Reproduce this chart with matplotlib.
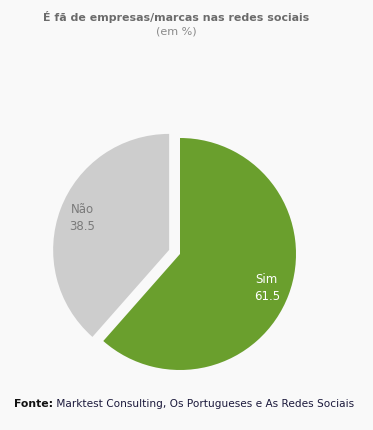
import matplotlib
matplotlib.use("Agg")
import matplotlib.pyplot as plt

categories = ["Sim", "Não"]
values = [61.5, 38.5]
colors = ["#6a9f2d", "#cdcdcd"]
label_colors = ["white", "#7a7a7a"]
explode = [0, 0.1]

bg = "#f9f9f9"
fig = plt.figure(figsize=(3.73, 4.31), dpi=100, facecolor=bg)
r_px = 116
cx, cy = 180, 431 - 255
half = 150
ax = fig.add_axes([(cx - half) / 373, (cy - half) / 431, 2 * half / 373, 2 * half / 431])
ax.set_facecolor(bg)
lim = half / r_px
wedges, texts, autotexts = ax.pie(values, colors=colors, explode=explode, startangle=90,
                                  counterclock=False, autopct="%.1f", pctdistance=0.8,
                                  wedgeprops=dict(linewidth=0),
                                  textprops=dict(fontsize=8.5, family="DejaVu Sans"))
for t, cat, val, c in zip(autotexts, categories, values, label_colors):
    t.set_text(f"{cat}\n{val}")
    t.set_color(c)
    t.set_linespacing(1.35)
ax.set_xlim(-lim, lim)
ax.set_ylim(-lim, lim)
ax.set_aspect("auto")
ax.axis("off")

fig.text(176 / 373, 1 - 17 / 431, "É fã de empresas/marcas nas redes sociais", ha="center", va="center",
         fontsize=7.9, fontweight="bold", color="#6b6b6b")
fig.text(176 / 373, 1 - 32 / 431, "(em %)", ha="center", va="center", fontsize=8, color="#8a8a8a")
t1 = fig.text(14 / 373, 1 - 404 / 431, "Fonte:", ha="left", va="center", fontsize=7.8,
              fontweight="bold", color="#111111")
fig.canvas.draw()
ax.annotate(" Marktest Consulting, Os Portugueses e As Redes Sociais", xy=(1, 0.5), xycoords=t1,
            ha="left", va="center", fontsize=7.6, color="#1c1a3c", annotation_clip=False)
fig.savefig("out.png", dpi=100, facecolor=bg)
